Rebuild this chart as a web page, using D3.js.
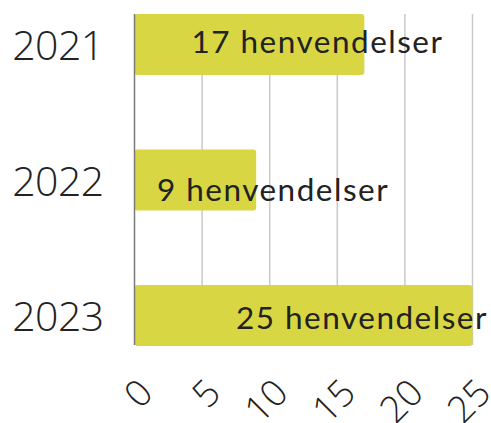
<!DOCTYPE html>
<html>
<head>
<meta charset="utf-8">
<script src="https://cdn.jsdelivr.net/npm/d3@7"></script>
<style>
  html, body { margin: 0; padding: 0; background: #fff; }
  svg { display: block; }
</style>
</head>
<body>
<svg id="chart" width="491" height="423"></svg>
<script>
// ---- data ----
const years = ["2021", "2022", "2023"];
const counts = [17, 9, 25];
const unitLabel = "henvendelser";
const xTicks = [0, 5, 10, 15, 20, 25];

// ---- layout / style ----
const plot = { left: 134.5, right: 472.5, top: 14, bottom: 346 };
const barColor = "#d8d642";
const labelNudgeY = [9, 21, 13];

const svg = d3.select("#chart");

const x = d3.scaleLinear().domain([0, 25]).range([plot.left, plot.right]);
const y = d3.scaleBand().domain(years).range([plot.top, plot.bottom])
  .paddingInner(0.55).paddingOuter(0);

// gridlines
svg.append("g").selectAll("line")
  .data(xTicks.filter(d => d > 0))
  .join("line")
  .attr("x1", d => x(d)).attr("x2", d => x(d))
  .attr("y1", plot.top).attr("y2", plot.bottom - 1)
  .attr("stroke", "#c9c9c9").attr("stroke-width", 1.5);

const data = years.map((yr, i) => ({ year: yr, value: counts[i], i }));

// bars
svg.append("g").selectAll("rect")
  .data(data)
  .join("rect")
  .attr("x", x(0))
  .attr("y", d => y(d.year))
  .attr("width", d => x(d.value) - x(0))
  .attr("height", y.bandwidth())
  .attr("rx", 3)
  .attr("fill", barColor);

// axis line at zero
svg.append("line")
  .attr("x1", x(0)).attr("x2", x(0))
  .attr("y1", plot.top).attr("y2", plot.bottom - 1)
  .attr("stroke", "#7a7a7a").attr("stroke-width", 1.5);

// year labels
svg.append("g").selectAll("text")
  .data(data)
  .join("text")
  .attr("x", x(0) - 31)
  .attr("y", d => y(d.year) + y.bandwidth() / 2 + 15.5)
  .attr("text-anchor", "end")
  .attr("font-family", "Open Sans")
  .attr("font-weight", 300)
  .attr("font-size", 41)
  .attr("letter-spacing", -0.6)
  .attr("fill", "#222")
  .text(d => d.year);

// value labels
svg.append("g").selectAll("text")
  .data(data)
  .join("text")
  .attr("x", d => x(d.value * 0.411) + 88.5)
  .attr("y", d => y(d.year) + y.bandwidth() / 2 + labelNudgeY[d.i])
  .attr("text-anchor", "middle")
  .attr("font-family", "Lato")
  .attr("font-size", 31.5)
  .attr("letter-spacing", 1.5)
  .attr("fill", "#222")
  .text(d => d.value + " " + unitLabel);

// x axis tick labels
const xAxis = d3.axisBottom(x).tickValues(xTicks).tickSize(0).tickFormat(d3.format("d"));
const gx = svg.append("g").attr("transform", `translate(0,${plot.bottom})`).call(xAxis);
gx.select(".domain").remove();
gx.selectAll("text")
  .attr("font-family", "Open Sans")
  .attr("font-weight", 300)
  .attr("font-size", 37)
  .attr("fill", "#222")
  .attr("text-anchor", "end")
  .attr("dy", null)
  .attr("y", null)
  .attr("transform", "translate(20,49) rotate(-45)");
</script>
</body>
</html>
